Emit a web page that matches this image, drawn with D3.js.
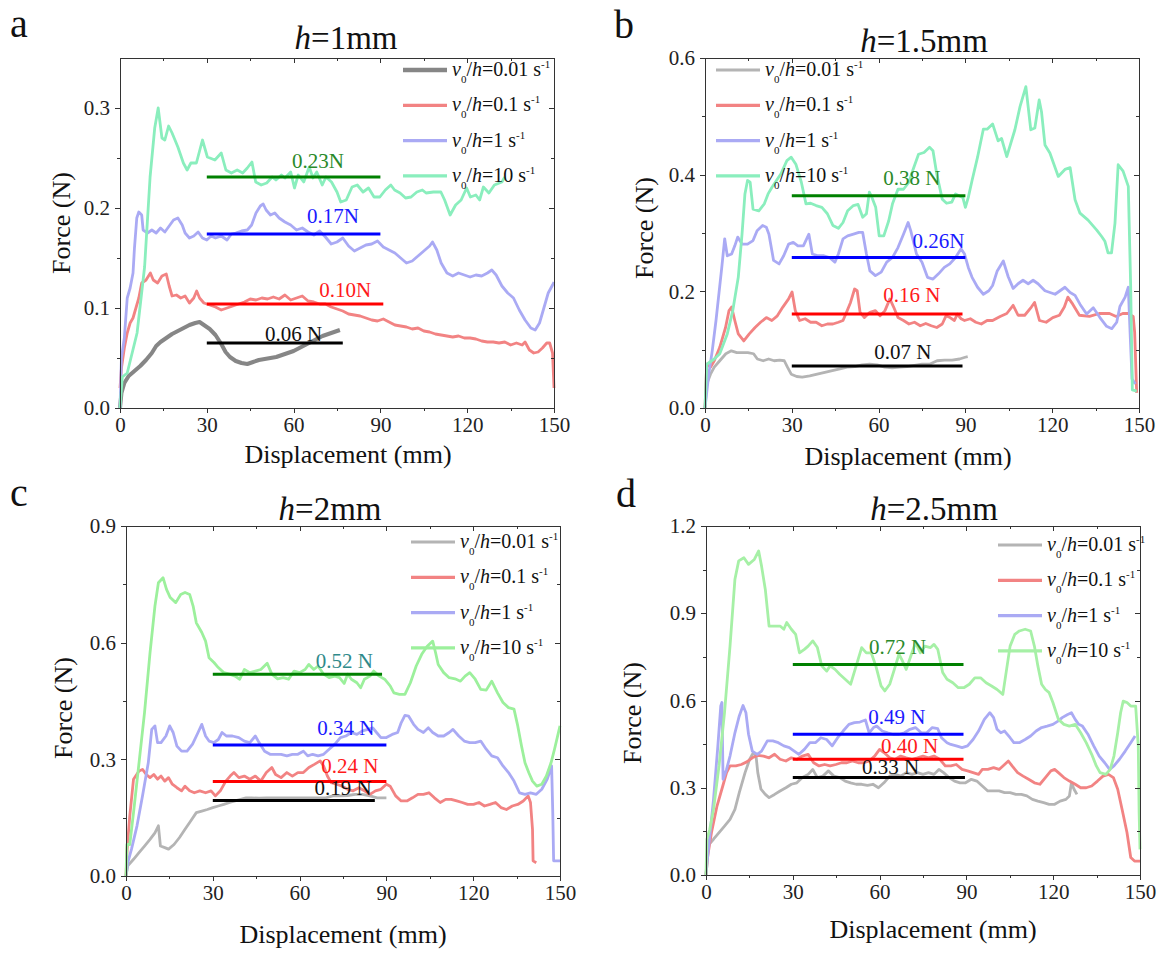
<!DOCTYPE html>
<html>
<head>
<meta charset="utf-8">
<script src="https://cdn.jsdelivr.net/npm/d3@7"></script>
<style>
body { margin: 0; background: #fff; }
text { font-family: "Liberation Serif", "Times New Roman", serif; }
.axis path, .axis line { stroke: #333; stroke-width: 1; shape-rendering: crispEdges; }
.axis text { font-size: 21px; fill: #222; }
</style>
</head>
<body>
<div id="fig"></div>
<script>

// ---- shared ticks / legend ----
var xTicks = [0, 30, 60, 90, 120, 150];
var xMinor = [15, 45, 75, 105, 135];
var rates = ["0.01", "0.1", "1", "10"];

// ---- panel a, h = 1 mm ----
var aGray = [[0,0],[0.5,0.015],[1.5,0.025],[3,0.032],[5,0.037],[7,0.042],[9,0.048],[11,0.055],[12.5,0.062],[14,0.066],
  [16,0.07],[18,0.074],[20,0.077],[22,0.08],[24,0.083],[26,0.085],[27.5,0.086],[29,0.083],[31,0.079],[33,0.073],
  [35,0.064],[36.5,0.056],[38,0.051],[40,0.047],[42,0.045],[44,0.044],[46,0.046],[48,0.048],[50,0.049],[52,0.05],
  [54,0.051],[56,0.053],[58,0.055],[60,0.057],[62,0.06],[64,0.063],[66,0.066],[68,0.069],[70,0.072],[72,0.074],[74,0.076],[76,0.078]];
var aRed = [[0,0.02],[0.5,0.04],[1.5,0.06],[2.5,0.075],[3.5,0.085],[4.5,0.09],[5.5,0.1],[6.5,0.11],[7.5,0.125],[9,0.128],
  [10.5,0.135],[11.5,0.128],[13,0.125],[14.5,0.132],[16,0.134],[17,0.122],[18,0.112],[19.5,0.113],[21,0.11],[22.5,0.112],
  [24,0.105],[25.5,0.11],[26.5,0.117],[27.5,0.11],[29,0.105],[31,0.103],[33,0.101],[35,0.098],[37,0.1],[39,0.102],
  [41,0.104],[43,0.106],[45,0.109],[47,0.108],[49,0.11],[51,0.109],[53,0.111],[55,0.109],[57,0.113],[59,0.108],
  [61,0.11],[63,0.112],[65,0.107],[67,0.106],[69,0.104],[71,0.104],[73,0.101],[75,0.099],[77,0.097],[79,0.094],
  [81,0.093],[83,0.092],[85,0.09],[87,0.088],[89,0.087],[91,0.089],[93,0.086],[95,0.083],[97,0.082],[99,0.081],
  [101,0.079],[103,0.08],[105,0.077],[107,0.076],[109,0.074],[111,0.073],[113,0.072],[115,0.071],[117,0.072],[119,0.07],
  [121,0.07],[123,0.069],[125,0.067],[127,0.066],[129,0.066],[131,0.065],[133,0.066],[135,0.063],[137,0.065],[139,0.063],
  [140,0.066],[141.5,0.058],[143,0.055],[144.5,0.056],[146,0.06],[147.5,0.065],[148.5,0.065],[149.5,0.055],[150,0.02]];
var aBlue = [[0,0],[0.5,0.05],[1.5,0.07],[2.5,0.11],[3.5,0.12],[4.5,0.135],[5,0.16],[5.8,0.19],[6.5,0.196],[7.5,0.193],
  [8,0.178],[9.5,0.175],[11,0.178],[12.5,0.175],[14,0.18],[15.5,0.176],[17,0.182],[18.5,0.188],[20,0.19],[21.5,0.183],
  [22.5,0.175],[24,0.17],[25.5,0.172],[27,0.176],[28.5,0.17],[30,0.168],[31.5,0.172],[33,0.17],[35,0.172],[37,0.168],
  [38.5,0.174],[40,0.175],[42,0.177],[44,0.178],[45.5,0.183],[47,0.195],[48.5,0.202],[49.5,0.204],[50.5,0.198],[52,0.193],
  [53.5,0.195],[55,0.19],[57,0.186],[59,0.183],[61,0.178],[63,0.18],[65,0.176],[67,0.173],[69,0.177],[71,0.171],
  [73,0.164],[75,0.166],[77,0.17],[79,0.162],[81,0.157],[83,0.16],[85,0.163],[87,0.164],[89,0.167],[91,0.161],
  [93,0.158],[95,0.155],[97,0.15],[99,0.145],[101,0.147],[103,0.152],[105,0.157],[107,0.162],[108,0.166],[109.5,0.158],
  [111,0.145],[113,0.135],[115,0.132],[117,0.135],[119,0.133],[121,0.131],[123,0.133],[125,0.132],[127,0.135],[128.5,0.138],
  [130,0.133],[132,0.122],[134,0.115],[136,0.11],[138,0.098],[140,0.088],[142,0.08],[143.5,0.078],[145,0.085],[146.5,0.1],
  [148,0.115],[149.5,0.123],[150,0.126]];
var aGreen = [[0,0],[0.8,0.031],[2.5,0.035],[5.9,0.075],[8.5,0.141],[10.4,0.231],[12,0.28],[13.2,0.3],[14.5,0.27],[15.5,0.268],
  [16.8,0.282],[18,0.275],[20,0.261],[21.9,0.245],[23.2,0.238],[24.5,0.245],[26.4,0.245],[28.5,0.268],[30.2,0.251],[32.8,0.248],
  [35,0.255],[36.6,0.238],[38.5,0.235],[40.5,0.238],[42.4,0.235],[44,0.24],[45.6,0.246],[46.9,0.226],[48.8,0.223],[50.7,0.225],
  [52.6,0.231],[53.9,0.228],[55.8,0.233],[57,0.23],[59,0.236],[60.3,0.22],[61.6,0.233],[63.5,0.226],[65.4,0.241],[66.7,0.23],
  [68,0.236],[69.9,0.223],[71.2,0.231],[73.1,0.226],[75,0.216],[76.3,0.206],[78.2,0.208],[80.2,0.221],[82,0.223],[84,0.216],
  [85.9,0.22],[87.8,0.211],[89.8,0.211],[91.7,0.218],[93.6,0.223],[94.9,0.218],[96.8,0.215],[98.7,0.21],[100.6,0.211],[102.6,0.216],
  [104.5,0.218],[105.8,0.215],[108.3,0.216],[110.9,0.216],[112.2,0.208],[114.1,0.193],[116,0.203],[117.9,0.208],[119.8,0.22],[121.1,0.211],
  [123,0.213],[124.3,0.208],[125.6,0.221],[127.5,0.215],[129.4,0.223],[132,0.226],[133,0.231]];
var aMean = [0.065, 0.104, 0.174, 0.231];
var aMeanEnd = [77, 91, 90, 90];
var aLabel = ["0.06 N", "0.10N", "0.17N", "0.23N"];
var aLabelX = [60, 77.8, 73.6, 68.4];
var aLabelY = [0.067, 0.111, 0.185, 0.240];
var aYTicks = [0, 0.1, 0.2, 0.3];
var aYMinor = [0.05, 0.15, 0.25];

// ---- panel b, h = 1.5 mm ----
var bGray = [[0,0],[0.6,0.041],[1.9,0.058],[3.2,0.07],[5.1,0.081],[7.2,0.093],[9.1,0.098],[11,0.095],[12.9,0.095],[14.8,0.095],
  [16.8,0.093],[18.1,0.084],[20.1,0.081],[22,0.084],[23.9,0.081],[25.8,0.082],[27.4,0.081],[28.5,0.07],[29.8,0.058],[31.7,0.054],
  [33.6,0.053],[36.2,0.055],[38.8,0.058],[41.4,0.061],[44,0.064],[46.6,0.067],[49.1,0.07],[51.8,0.071],[54.3,0.074],[56.9,0.075],
  [59.5,0.074],[62.1,0.07],[64.7,0.069],[67.3,0.07],[69.8,0.071],[72.4,0.073],[75,0.075],[77.6,0.075],[80.2,0.081],[82.8,0.082],
  [85.4,0.082],[88,0.084],[89.9,0.087],[90.8,0.088]];
var bRed = [[0,0],[0.6,0.075],[1.9,0.07],[3.2,0.081],[5.1,0.104],[7.1,0.138],[8.3,0.167],[9.2,0.173],[10.3,0.15],[11.5,0.127],
  [13.4,0.115],[15.3,0.127],[17.3,0.138],[19.2,0.147],[21.2,0.155],[23.1,0.15],[25,0.158],[26.9,0.173],[28.9,0.187],[30.1,0.199],
  [31.2,0.167],[32.7,0.15],[34.6,0.153],[36.5,0.147],[38.4,0.147],[40.4,0.141],[42.3,0.144],[44.2,0.144],[46.1,0.147],[47.7,0.15],
  [48.9,0.164],[50.3,0.181],[51.7,0.204],[52.6,0.201],[53.6,0.164],[55.1,0.155],[57,0.164],[58.9,0.167],[60.5,0.158],[62.2,0.167],
  [63.9,0.187],[65.2,0.173],[66.7,0.155],[68.6,0.15],[70.5,0.144],[72.4,0.147],[74.4,0.141],[76.3,0.145],[78.2,0.141],[80.1,0.138],
  [82,0.144],[83.3,0.158],[84.7,0.155],[86.2,0.15],[87.2,0.161],[88.5,0.153],[89.7,0.15],[91.7,0.153],[93.6,0.147],[95.5,0.144],
  [97.5,0.15],[99.4,0.15],[102,0.157],[104.3,0.162],[106.5,0.176],[108.2,0.159],[110.5,0.159],[112.8,0.173],[113.9,0.181],[115.6,0.15],
  [117.9,0.147],[120.2,0.155],[122.5,0.159],[124.2,0.173],[125.4,0.19],[127.1,0.178],[129.4,0.159],[132.9,0.157],[136.3,0.162],[139.8,0.162],
  [142.1,0.157],[144.4,0.162],[146.2,0.162],[148,0.157],[148.5,0.13],[149.2,0.026]];
var bBlue = [[0,0],[1.3,0.058],[2.5,0.098],[3.8,0.15],[5.8,0.241],[6.8,0.29],[7.7,0.261],[9.2,0.264],[10.3,0.278],[11.3,0.293],
  [12.8,0.281],[14.7,0.281],[16.6,0.287],[18,0.304],[19.9,0.313],[21.2,0.31],[22.1,0.298],[23.7,0.253],[25.6,0.247],[27.2,0.261],
  [28.9,0.281],[30.5,0.284],[32.1,0.278],[34,0.278],[35.9,0.298],[37.1,0.264],[39.1,0.261],[41.1,0.261],[43,0.258],[44.9,0.25],
  [46.1,0.264],[47.7,0.29],[49.3,0.295],[51.3,0.298],[53.2,0.301],[54.5,0.301],[55.8,0.264],[57,0.235],[58.9,0.227],[60.9,0.233],
  [62.8,0.25],[64.8,0.258],[66.7,0.275],[68.6,0.298],[70.2,0.318],[71.1,0.304],[73.1,0.264],[75,0.25],[76.9,0.224],[78.8,0.221],
  [80.7,0.23],[82.7,0.241],[84.6,0.247],[86.6,0.258],[88.5,0.273],[89.7,0.264],[91,0.241],[92.3,0.224],[94.2,0.207],[96.2,0.195],
  [98.1,0.201],[99.4,0.21],[101,0.235],[103.1,0.252],[104.8,0.225],[106.5,0.205],[108.2,0.213],[109.9,0.219],[111.7,0.213],[113.4,0.219],
  [115.1,0.213],[117.5,0.201],[121,0.195],[124.4,0.207],[126.2,0.198],[127.9,0.193],[129.6,0.178],[131.9,0.161],[134.2,0.172],[136.5,0.155],
  [138.8,0.14],[140.6,0.136],[142.3,0.147],[143.4,0.174],[145.2,0.19],[146.3,0.207],[147,0.12],[147.6,0.05],[148.7,0.041]];
var bGreen = [[0,0],[0.6,0.075],[3.2,0.084],[5.1,0.093],[7.7,0.127],[9.6,0.167],[11.5,0.224],[12.8,0.298],[13.8,0.367],[14.7,0.39],
  [15.6,0.387],[16.6,0.341],[18.6,0.338],[20.5,0.35],[21.8,0.367],[23.1,0.378],[24.3,0.387],[26.2,0.401],[28.3,0.424],[29.8,0.43],
  [31.4,0.418],[33.3,0.387],[34.9,0.35],[36.5,0.351],[38.4,0.347],[40.4,0.344],[42.3,0.333],[44.2,0.313],[46.1,0.308],[47.7,0.318],
  [49.3,0.338],[51.3,0.347],[52.9,0.349],[54.5,0.327],[55.8,0.333],[56.8,0.37],[57.7,0.361],[59,0.344],[60.2,0.295],[61.8,0.295],
  [63.5,0.321],[64.8,0.35],[66.7,0.375],[68.6,0.375],[70.5,0.387],[71.8,0.407],[73.8,0.435],[75.7,0.438],[77.6,0.447],[78.8,0.441],
  [80.1,0.401],[82,0.358],[83.5,0.351],[85.3,0.353],[86.6,0.367],[87.8,0.364],[89.1,0.361],[90,0.344],[91,0.361],[92.3,0.39],
  [94.2,0.43],[96.2,0.478],[97.5,0.478],[99.4,0.487],[101.3,0.458],[102.5,0.462],[104.3,0.431],[107.1,0.477],[108.9,0.517],[110.9,0.551],
  [112.6,0.477],[114,0.48],[115.5,0.528],[116.3,0.508],[117.5,0.451],[119.2,0.437],[122.1,0.397],[124.4,0.409],[126.2,0.412],[127.9,0.357],
  [129.6,0.334],[132.4,0.322],[135.4,0.305],[137.1,0.294],[138.2,0.286],[139.3,0.266],[140.5,0.266],[141.7,0.317],[142.8,0.417],[144.5,0.406],
  [146.3,0.38],[147.1,0.214],[147.7,0.031],[149.2,0.029]];
var bMean = [0.072, 0.161, 0.258, 0.364];
var bMeanEnd = [89, 89, 90, 90];
var bLabel = ["0.07 N", "0.16 N", "0.26N", "0.38 N"];
var bLabelX = [68.4, 71.5, 80.7, 71.5];
var bLabelY = [0.084, 0.182, 0.274, 0.382];
var bYTicks = [0, 0.2, 0.4, 0.6];
var bYMinor = [0.1, 0.3, 0.5];

// ---- panel c, h = 2 mm ----
var cGray = [[0,0],[0.6,0.026],[2.6,0.043],[4.5,0.06],[6.4,0.077],[8.3,0.094],[10,0.111],[11.2,0.129],[11.9,0.077],[13.4,0.073],
  [14.7,0.069],[16.6,0.081],[18.5,0.099],[20.4,0.12],[22.3,0.141],[24.3,0.163],[26.2,0.167],[28.1,0.171],[30,0.176],[31.9,0.18],
  [33.8,0.184],[35.8,0.189],[37.7,0.193],[39.6,0.197],[41.5,0.201],[43.4,0.201],[46,0.2],[48.5,0.201],[51.1,0.201],[53.6,0.201],
  [56.2,0.201],[58.7,0.201],[61.3,0.201],[63.9,0.201],[66.4,0.201],[69,0.201],[71.5,0.206],[74.1,0.206],[76.6,0.207],[79.2,0.21],
  [81.7,0.21],[84.3,0.206],[86.8,0.201],[90,0.201]];
var cRed = [[0,0],[0.4,0.069],[1.3,0.154],[2.6,0.249],[4.5,0.27],[5.7,0.274],[7,0.261],[8.3,0.253],[9.6,0.261],[10.9,0.249],
  [12.1,0.257],[13.4,0.244],[14.7,0.253],[16,0.236],[17.6,0.227],[19.2,0.219],[20.4,0.231],[22,0.219],[23.6,0.214],[25.5,0.219],
  [27.5,0.214],[29.4,0.219],[30.9,0.206],[32.6,0.219],[34.5,0.244],[36,0.257],[37.3,0.266],[39,0.253],[40.9,0.257],[42.8,0.249],
  [44.7,0.257],[46.6,0.244],[48.5,0.266],[50.4,0.279],[51.7,0.261],[53.6,0.253],[55.6,0.266],[57.5,0.257],[59.4,0.266],[61.3,0.266],
  [63.2,0.279],[65.1,0.287],[67.1,0.296],[68.3,0.283],[69.6,0.257],[70.9,0.24],[72.8,0.236],[74.7,0.231],[76.6,0.223],[78.5,0.219],
  [80.5,0.227],[82.4,0.219],[84.3,0.21],[86.2,0.219],[88.1,0.223],[90,0.236],[91.3,0.231],[93.2,0.206],[95.1,0.193],[97.1,0.193],
  [99,0.201],[100.9,0.21],[102.8,0.21],[104.7,0.214],[106.6,0.201],[108.6,0.189],[110.5,0.197],[112.4,0.197],[114.3,0.193],[116.2,0.189],
  [118.1,0.184],[120.1,0.184],[122,0.189],[123.9,0.18],[125.8,0.184],[127.7,0.189],[129.6,0.176],[131.5,0.171],[133.5,0.18],[135.4,0.184],
  [137.3,0.193],[139,0.206],[139.8,0.189],[140.5,0.12],[140.7,0.039],[141.8,0.034]];
var cBlue = [[0,0],[0.6,0.034],[1.9,0.069],[3.8,0.129],[5.7,0.206],[7.7,0.291],[8.9,0.377],[10,0.386],[10.9,0.343],[12.1,0.343],
  [13.8,0.36],[15.1,0.386],[16.3,0.369],[17.6,0.334],[19.2,0.321],[21.1,0.321],[23,0.339],[24.9,0.369],[26.2,0.39],[27.5,0.36],
  [28.7,0.347],[30.4,0.343],[31.9,0.351],[33.2,0.369],[34.7,0.36],[36.8,0.36],[39,0.356],[40.9,0.347],[42.8,0.343],[44.7,0.36],
  [46,0.343],[47.9,0.321],[49.8,0.313],[51.7,0.313],[53.6,0.313],[55.6,0.309],[57.5,0.313],[59.4,0.313],[61.3,0.321],[62.8,0.309],
  [64.5,0.313],[66.4,0.309],[68.3,0.313],[70.2,0.326],[72.2,0.339],[74.1,0.356],[76,0.36],[77.9,0.369],[79.8,0.364],[81.7,0.373],
  [83.7,0.377],[85.3,0.381],[86.6,0.369],[88.1,0.356],[90,0.356],[92,0.364],[93.9,0.369],[95.1,0.394],[96.4,0.413],[97.7,0.411],
  [99.4,0.39],[100.9,0.377],[102.8,0.369],[104.5,0.381],[106,0.369],[107.9,0.36],[109.8,0.36],[111.7,0.369],[113,0.377],[115,0.36],
  [116.9,0.347],[118.8,0.343],[120.7,0.343],[122.6,0.347],[124.5,0.326],[126.4,0.309],[128.4,0.304],[130.3,0.283],[132.2,0.266],[134.1,0.244],
  [136,0.214],[137.9,0.21],[139.8,0.214],[141.8,0.21],[143.7,0.223],[145.6,0.249],[147.1,0.283],[147.5,0.163],[147.8,0.039],[150,0.039]];
var cGreen = [[0,0],[0.3,0.081],[1.3,0.081],[2.6,0.163],[4.5,0.291],[6.4,0.42],[8.3,0.574],[10,0.694],[11.2,0.754],[12.8,0.767],
  [14,0.737],[15.3,0.716],[17.2,0.703],[18.9,0.724],[20.4,0.729],[22,0.724],[23.2,0.694],[24.3,0.651],[26.2,0.626],[27.5,0.604],
  [28.7,0.561],[30.4,0.549],[31.9,0.536],[33.8,0.523],[35.8,0.519],[37.7,0.514],[39.3,0.506],[40.9,0.531],[42.8,0.523],[44.7,0.527],
  [46.6,0.531],[48.8,0.547],[50.4,0.519],[52.4,0.507],[54.3,0.51],[56.2,0.506],[58.1,0.527],[60,0.523],[61.9,0.531],[63.2,0.544],
  [64.9,0.531],[66.4,0.54],[68.3,0.519],[70.2,0.51],[72.2,0.514],[73.8,0.51],[75.4,0.495],[76.6,0.519],[77.9,0.506],[79.8,0.497],
  [81.1,0.484],[82.4,0.506],[84.3,0.514],[85.6,0.527],[87.5,0.514],[89.4,0.506],[91.3,0.489],[92.6,0.471],[94.5,0.467],[96.4,0.467],
  [98.3,0.497],[100.3,0.54],[102.2,0.57],[104.1,0.591],[106,0.604],[107,0.574],[107.9,0.544],[109.8,0.523],[111.7,0.51],[113.7,0.507],
  [115.6,0.501],[117.2,0.514],[118.8,0.523],[120.7,0.506],[122.6,0.48],[124.5,0.478],[126.4,0.501],[128.4,0.471],[130.3,0.446],[132.2,0.433],
  [134.1,0.429],[135.4,0.386],[136.7,0.334],[137.9,0.291],[139.2,0.266],[140.5,0.244],[142,0.231],[143.7,0.236],[145.3,0.257],[146.9,0.291],
  [148.1,0.326],[150,0.386]];
var cMean = [0.194, 0.243, 0.337, 0.519];
var cMeanEnd = [86, 90, 90, 88.5];
var cLabel = ["0.19 N", "0.24 N", "0.34 N", "0.52 N"];
var cLabelX = [75, 77.4, 76, 75.5];
var cLabelY = [0.208, 0.266, 0.363, 0.535];
var cYTicks = [0, 0.3, 0.6, 0.9];
var cYMinor = [0.15, 0.45, 0.75];

// ---- panel d, h = 2.5 mm ----
var dGray = [[0,0],[0.6,0.1],[2.6,0.123],[4.5,0.146],[6.4,0.168],[8.3,0.191],[10,0.226],[11.5,0.283],[13.5,0.352],[15.1,0.398],
  [16.4,0.421],[17.3,0.409],[17.9,0.352],[19,0.295],[20.5,0.277],[21.8,0.266],[23.7,0.277],[25.6,0.289],[27.6,0.3],[29.5,0.312],
  [31.4,0.317],[33.3,0.335],[35.3,0.346],[36.9,0.363],[38.5,0.335],[40.4,0.34],[42.3,0.358],[44.2,0.34],[46.2,0.335],[48.1,0.323],
  [50,0.317],[51.9,0.312],[53.8,0.312],[55.8,0.308],[57.7,0.312],[59.6,0.3],[61.5,0.317],[63.5,0.34],[65.4,0.346],[67.3,0.34],
  [69.2,0.352],[71.2,0.346],[73.1,0.352],[75,0.346],[76.9,0.352],[78.8,0.346],[80.5,0.363],[82.1,0.352],[84,0.335],[85.9,0.323],
  [87.8,0.317],[89.7,0.317],[91.7,0.329],[93.6,0.323],[95.5,0.306],[97.4,0.289],[99.4,0.289],[101.3,0.289],[103.2,0.283],[105.1,0.283],
  [107.1,0.277],[109,0.277],[110.9,0.272],[112.8,0.26],[114.7,0.254],[116.7,0.249],[118.6,0.243],[120.5,0.243],[122.4,0.254],[124.4,0.26],
  [125.6,0.272],[126.3,0.317],[127.2,0.295],[128.2,0.277]];
var dRed = [[0,0],[0.6,0.065],[1.9,0.146],[3.8,0.237],[5.8,0.306],[7.1,0.352],[8.3,0.375],[10.3,0.375],[12.2,0.38],[14.1,0.389],
  [16,0.403],[17.9,0.411],[19.9,0.409],[21.8,0.403],[23.7,0.415],[25.6,0.398],[27.6,0.392],[29.5,0.403],[31.4,0.398],[33.3,0.409],
  [35.3,0.415],[37.2,0.386],[39.1,0.375],[41,0.38],[42.9,0.375],[44.9,0.38],[46.8,0.386],[48.7,0.386],[50.6,0.392],[52.6,0.386],
  [54.5,0.386],[56.4,0.392],[58.3,0.409],[60,0.432],[61.5,0.421],[63.5,0.403],[65.4,0.398],[67.3,0.409],[69.2,0.403],[71.2,0.398],
  [73.1,0.403],[75,0.409],[76.9,0.403],[78.8,0.409],[80.8,0.398],[82.7,0.375],[84.6,0.375],[86.5,0.38],[88.5,0.363],[90.4,0.358],
  [92.3,0.352],[94.2,0.346],[95.5,0.363],[97.4,0.363],[99.4,0.369],[101.3,0.363],[103.2,0.38],[104.5,0.392],[105.8,0.375],[107.7,0.352],
  [109.6,0.34],[111.5,0.329],[113.5,0.317],[115.4,0.312],[117.3,0.335],[119.2,0.358],[120.5,0.363],[121.8,0.352],[123.7,0.335],[125.6,0.323],
  [127.6,0.312],[129.5,0.3],[131.4,0.3],[133.3,0.306],[135.3,0.323],[137.2,0.34],[139.1,0.346],[140.8,0.335],[142.3,0.295],[143.8,0.226],
  [145.5,0.146],[146.8,0.06],[148.1,0.048],[150,0.048]];
var dBlue = [[0,0],[0.6,0.065],[2.6,0.26],[4.1,0.444],[5.1,0.581],[5.5,0.593],[5.9,0.329],[7.1,0.363],[8.3,0.409],[10,0.489],
  [11.5,0.547],[12.8,0.583],[13.8,0.558],[14.7,0.484],[16,0.426],[17.7,0.415],[19.2,0.426],[21.2,0.461],[23.1,0.461],[25,0.455],
  [26.9,0.444],[28.8,0.438],[30.5,0.426],[32.1,0.415],[34,0.432],[35.9,0.455],[37.8,0.455],[39.7,0.472],[41.7,0.466],[43.6,0.444],
  [45.5,0.472],[47.4,0.495],[49.4,0.518],[51.3,0.524],[53.2,0.526],[55.1,0.533],[56.4,0.489],[57.9,0.507],[59,0.512],[60.9,0.495],
  [62.8,0.489],[64.7,0.484],[66.7,0.484],[68.6,0.489],[70.5,0.501],[72.4,0.507],[74.4,0.489],[76.3,0.489],[78.2,0.507],[80.1,0.503],
  [81.4,0.472],[83.3,0.455],[84.6,0.449],[86.5,0.444],[88.5,0.438],[90.4,0.444],[92.3,0.466],[94.2,0.495],[96.2,0.535],[98.1,0.558],
  [99.4,0.541],[100.6,0.501],[101.9,0.489],[103.2,0.495],[105.1,0.472],[106.4,0.455],[108.3,0.455],[110.3,0.466],[112.2,0.478],[114.1,0.495],
  [116,0.507],[117.9,0.512],[119.9,0.518],[121.8,0.53],[123.1,0.541],[125,0.552],[126.3,0.558],[127.6,0.535],[128.8,0.518],[130.1,0.512],
  [132,0.484],[134,0.444],[135.9,0.409],[137.8,0.386],[139.5,0.363],[141,0.375],[142.9,0.398],[144.9,0.426],[146.8,0.455],[148.3,0.478]];
var dGreen = [[0,0],[0.3,0.123],[1.3,0.157],[2.6,0.226],[4.5,0.375],[6.4,0.558],[8.3,0.787],[10,1.017],[11.3,1.08],[13.1,1.091],
  [14.7,1.068],[16.7,1.085],[18.2,1.114],[19.2,1.062],[20.5,0.982],[21.8,0.856],[23.7,0.856],[25.6,0.856],[26.9,0.845],[27.9,0.868],
  [29.5,0.845],[31,0.827],[32.3,0.764],[34,0.776],[35.3,0.787],[36.9,0.805],[38.5,0.782],[40,0.719],[41.7,0.701],[42.9,0.719],
  [44.6,0.707],[46.2,0.69],[48.1,0.673],[50,0.656],[51.9,0.719],[53.8,0.782],[55.4,0.764],[57.1,0.764],[58.7,0.719],[60.5,0.65],
  [61.8,0.633],[63.5,0.656],[65.1,0.707],[66.7,0.759],[67.9,0.736],[69.2,0.707],[70.8,0.753],[72.4,0.799],[74.1,0.764],[75.6,0.787],
  [77.6,0.782],[78.8,0.793],[80.1,0.776],[81.8,0.696],[83.3,0.673],[85.3,0.661],[87.2,0.644],[89.1,0.644],[91,0.656],[92.9,0.678],
  [94.9,0.678],[96.8,0.661],[98.7,0.65],[100.6,0.638],[102.6,0.621],[103.8,0.701],[105.1,0.787],[106.7,0.827],[108.3,0.839],[110.3,0.845],
  [112.2,0.839],[113.5,0.787],[114.7,0.719],[116,0.656],[117.3,0.638],[118.6,0.627],[119.9,0.593],[121.8,0.535],[123.7,0.518],[125.6,0.512],
  [127.6,0.518],[129.5,0.489],[131.4,0.455],[133.3,0.415],[134.9,0.375],[136.2,0.352],[138.2,0.346],[139.7,0.363],[141,0.409],[142.3,0.489],
  [143.3,0.558],[144.2,0.598],[145.5,0.593],[146.8,0.581],[148.5,0.581],[149.4,0.444],[149.7,0.214],[150,0.088]];
var dMean = [0.335, 0.398, 0.484, 0.724];
var dMeanEnd = [89.5, 89, 89, 89];
var dLabel = ["0.33 N", "0.40 N", "0.49 N", "0.72 N"];
var dLabelX = [63.8, 70.4, 66, 66.2];
var dLabelY = [0.346, 0.418, 0.518, 0.759];
var dYTicks = [0, 0.3, 0.6, 0.9, 1.2];
var dYMinor = [0.15, 0.45, 0.75, 1.05];

// ---- layout per panel ----
var panels = [
  {tag: "a", h: "1mm", box: [120, 554, 58, 408], yMax: 0.35, yTicks: aYTicks, yMinor: aYMinor,
   series: [aGray, aRed, aBlue, aGreen], mean: aMean, meanEnd: aMeanEnd, label: aLabel, lx: aLabelX, ly: aLabelY,
   colors: ["#868686", "#f28383", "#aaaaf4", "#8aeebd"], labelColors: ["#111", "#ff1a1a", "#1a1aff", "#2a8a2a"],
   tagPos: [10, 37], titlePos: [346, 49], legPos: [283, 12], yTitle: [70, 223], xTitle: [348, 463]},
  {tag: "b", h: "1.5mm", box: [705, 1139, 58, 408], yMax: 0.6, yTicks: bYTicks, yMinor: bYMinor,
   series: [bGray, bRed, bBlue, bGreen], mean: bMean, meanEnd: bMeanEnd, label: bLabel, lx: bLabelX, ly: bLabelY,
   colors: ["#b4b4b4", "#f28383", "#aaaaf4", "#8aeebd"], labelColors: ["#111", "#ff1a1a", "#1a1aff", "#2a8a2a"],
   tagPos: [614, 38], titlePos: [924, 52], legPos: [11, 12], yTitle: [653, 228], xTitle: [908, 465]},
  {tag: "c", h: "2mm", box: [126, 560, 526, 876], yMax: 0.9, yTicks: cYTicks, yMinor: cYMinor,
   series: [cGray, cRed, cBlue, cGreen], mean: cMean, meanEnd: cMeanEnd, label: cLabel, lx: cLabelX, ly: cLabelY,
   colors: ["#b4b4b4", "#f28383", "#aaaaf4", "#9cf09c"], labelColors: ["#111", "#ff1a1a", "#1a1aff", "#2f8a8a"],
   tagPos: [10, 506], titlePos: [330, 520], legPos: [285, 16], yTitle: [72, 708], xTitle: [343, 943]},
  {tag: "d", h: "2.5mm", box: [706, 1140, 526, 875], yMax: 1.2, yTicks: dYTicks, yMinor: dYMinor,
   series: [dGray, dRed, dBlue, dGreen], mean: dMean, meanEnd: dMeanEnd, label: dLabel, lx: dLabelX, ly: dLabelY,
   colors: ["#b4b4b4", "#f28383", "#aaaaf4", "#a6f0a6"], labelColors: ["#111", "#ff1a1a", "#1a1aff", "#2a8a2a"],
   tagPos: [616, 507], titlePos: [934, 520], legPos: [292, 19], yTitle: [641, 713], xTitle: [933, 938]}
];
var meanColors = ["#000000", "#ff0000", "#0000ff", "#008000"];

var svg = d3.select("#fig").append("svg")
    .attr("width", 1161)
    .attr("height", 956)
    .style("background", "#fff");

panels.forEach(drawPanel);

function drawPanel(p) {
    var w = p.box[1] - p.box[0],
        h = p.box[3] - p.box[2];

    var x = d3.scaleLinear().domain([0, 150]).range([0, w]);
    var y = d3.scaleLinear().domain([0, p.yMax]).range([h, 0]);

    var g = svg.append("g")
        .attr("transform", "translate(" + p.box[0] + "," + p.box[2] + ")");

    var line = d3.line()
        .x(function(d) { return x(d[0]); })
        .y(function(d) { return y(d[1]); });

    // curves: gray, red, blue, green
    p.series.forEach(function(s, i) {
        g.append("path")
            .datum(s)
            .attr("d", line)
            .attr("fill", "none")
            .attr("stroke", p.colors[i])
            .attr("stroke-width", (i == 0 && p.tag == "a") ? 4 : 2.8)
            .attr("stroke-linejoin", "round");
    });

    // average lines
    p.mean.forEach(function(m, i) {
        g.append("line")
            .attr("x1", x(30)).attr("x2", x(p.meanEnd[i]))
            .attr("y1", y(m)).attr("y2", y(m))
            .attr("stroke", meanColors[i])
            .attr("stroke-width", 3);
    });

    p.label.forEach(function(t, i) {
        g.append("text")
            .attr("x", x(p.lx[i]))
            .attr("y", y(p.ly[i]))
            .attr("text-anchor", "middle")
            .attr("font-size", 21)
            .attr("fill", p.labelColors[i])
            .text(t);
    });

    // axes (frame with ticks on all four sides)
    var fmt = d3.format(".1f");
    g.append("g").attr("class", "axis")
        .attr("transform", "translate(0," + h + ")")
        .call(d3.axisBottom(x).tickValues(xTicks).tickSize(5).tickSizeOuter(0).tickPadding(4));
    g.append("g").attr("class", "axis")
        .attr("transform", "translate(0," + h + ")")
        .call(d3.axisBottom(x).tickValues(xMinor).tickSize(3).tickSizeOuter(0).tickFormat(""));
    g.append("g").attr("class", "axis")
        .call(d3.axisTop(x).tickValues(xTicks).tickSize(-5).tickSizeOuter(0).tickFormat(""));
    g.append("g").attr("class", "axis")
        .call(d3.axisTop(x).tickValues(xMinor).tickSize(-3).tickSizeOuter(0).tickFormat(""));
    g.append("g").attr("class", "axis")
        .call(d3.axisLeft(y).tickValues(p.yTicks).tickSize(5).tickSizeOuter(0).tickPadding(5).tickFormat(fmt));
    g.append("g").attr("class", "axis")
        .call(d3.axisLeft(y).tickValues(p.yMinor).tickSize(3).tickSizeOuter(0).tickFormat(""));
    g.append("g").attr("class", "axis")
        .attr("transform", "translate(" + w + ",0)")
        .call(d3.axisRight(y).tickValues(p.yTicks).tickSize(-5).tickSizeOuter(0).tickFormat(""));
    g.append("g").attr("class", "axis")
        .attr("transform", "translate(" + w + ",0)")
        .call(d3.axisRight(y).tickValues(p.yMinor).tickSize(-3).tickSizeOuter(0).tickFormat(""));

    // legend
    var leg = g.append("g")
        .attr("transform", "translate(" + p.legPos[0] + "," + p.legPos[1] + ")");
    rates.forEach(function(r, i) {
        var row = leg.append("g").attr("transform", "translate(0," + (i * 35.3) + ")");
        row.append("line")
            .attr("x1", 0).attr("x2", 44)
            .attr("stroke", p.colors[i])
            .attr("stroke-width", (i == 0 && p.tag == "a") ? 4.5 : 3.2);
        var t = row.append("text")
            .attr("x", 49).attr("y", 6)
            .attr("font-size", 20)
            .attr("fill", "#111");
        t.append("tspan").attr("font-style", "italic").text("v");
        t.append("tspan").attr("font-size", 11).attr("dy", 7).text("0");
        t.append("tspan").attr("dy", -7).text("/");
        t.append("tspan").attr("font-style", "italic").text("h");
        t.append("tspan").text("=" + r + " s");
        t.append("tspan").attr("font-size", 11).attr("dy", -8).text("-1");
    });

    // panel tag, title, axis titles
    svg.append("text")
        .attr("x", p.tagPos[0]).attr("y", p.tagPos[1])
        .attr("font-size", 40)
        .attr("fill", "#111")
        .text(p.tag);

    var title = svg.append("text")
        .attr("x", p.titlePos[0]).attr("y", p.titlePos[1])
        .attr("text-anchor", "middle")
        .attr("font-size", 33)
        .attr("fill", "#111");
    title.append("tspan").attr("font-style", "italic").text("h");
    title.append("tspan").text("=" + p.h);

    svg.append("text")
        .attr("transform", "translate(" + p.yTitle[0] + "," + p.yTitle[1] + ") rotate(-90)")
        .attr("text-anchor", "middle")
        .attr("font-size", 26)
        .attr("fill", "#111")
        .text("Force (N)");

    svg.append("text")
        .attr("x", p.xTitle[0]).attr("y", p.xTitle[1])
        .attr("text-anchor", "middle")
        .attr("font-size", 26)
        .attr("fill", "#111")
        .text("Displacement (mm)");
}
</script>
</body>
</html>
